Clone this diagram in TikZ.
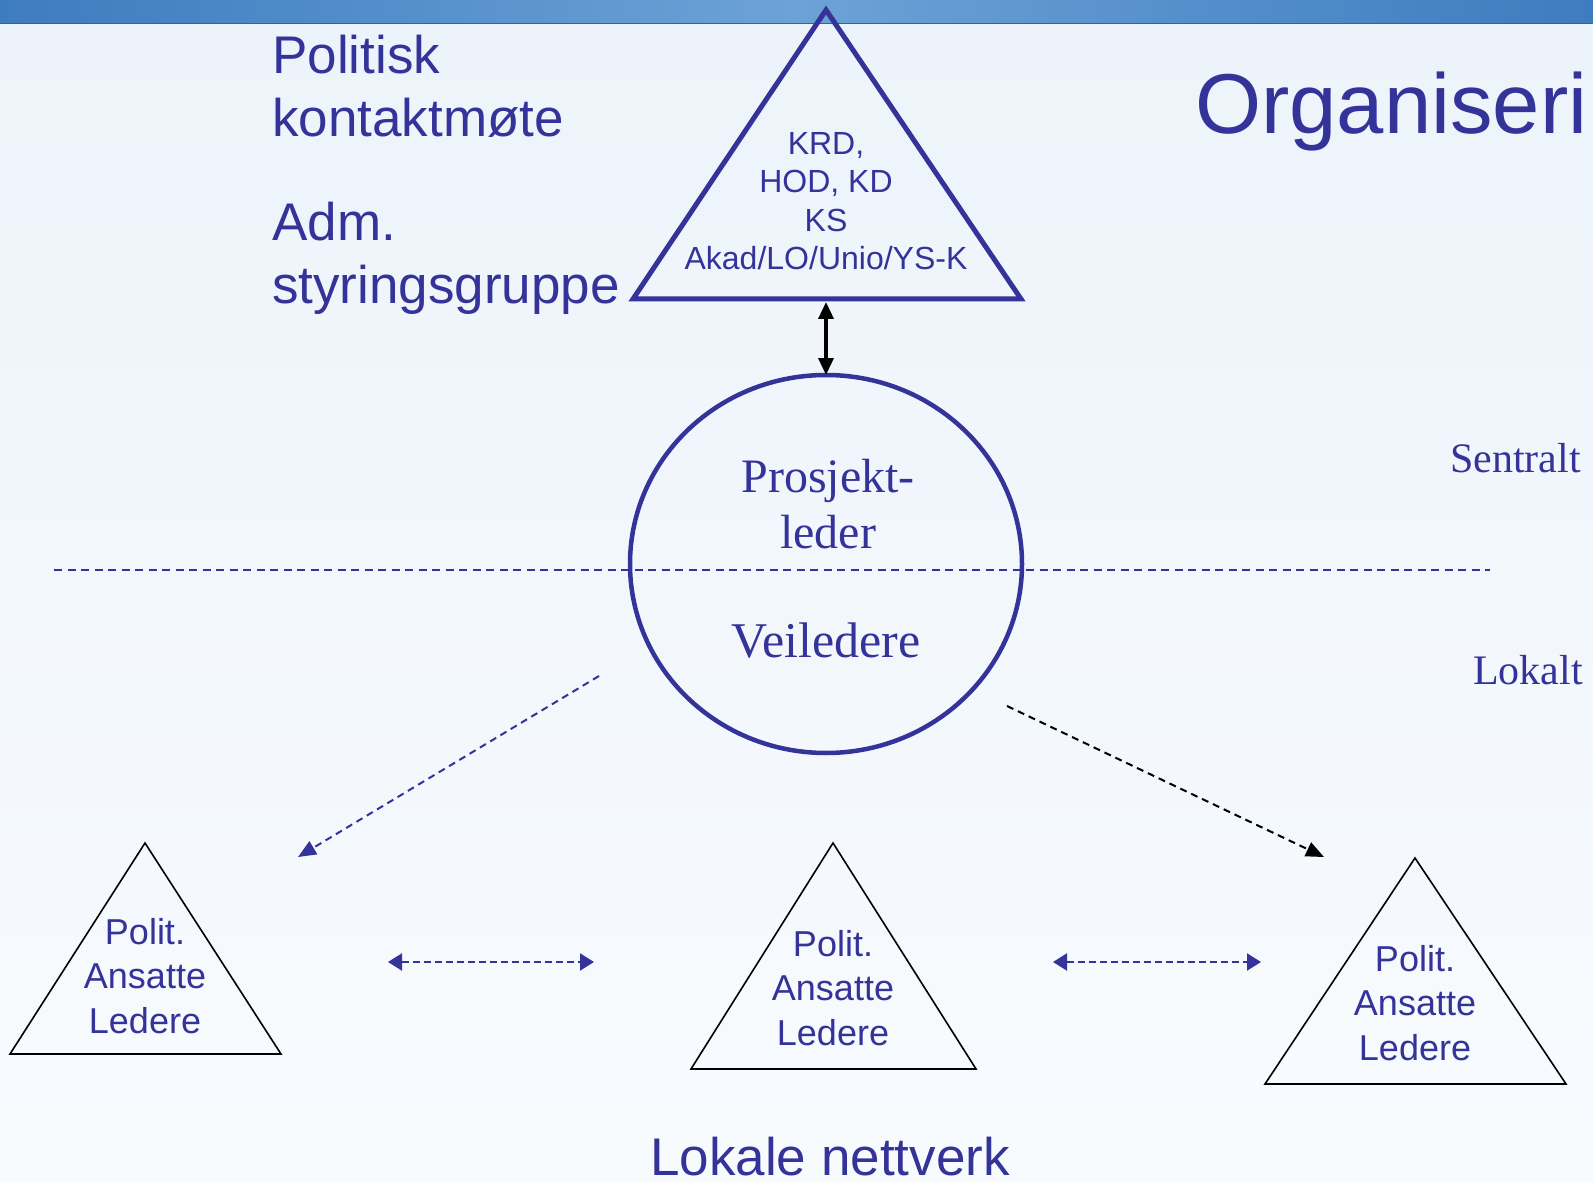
\documentclass[tikz,border=0pt]{standalone}
\usepackage{fontspec}
\setmainfont{Liberation Sans}
\newfontfamily\timesfont{Liberation Serif}
\usetikzlibrary{arrows.meta,shapes.geometric}

\definecolor{slideblue}{RGB}{51,51,153}
\definecolor{barblue}{RGB}{62,124,192}
\definecolor{barlight}{RGB}{108,162,214}
\definecolor{bgtop}{RGB}{236,243,250}
\definecolor{bgbot}{RGB}{248,251,254}

\tikzset{
  heading/.style={text=slideblue, font=\fontsize{53}{63}\selectfont, inner sep=0pt, align=left},
  members/.style={text=slideblue, font=\fontsize{32}{38.5}\selectfont, inner sep=0pt, align=center},
  lokal/.style={text=slideblue, font=\fontsize{36}{44.5}\selectfont, inner sep=0pt, align=center},
  serif/.style={text=slideblue, font=\timesfont\fontsize{48}{56}\selectfont, inner sep=0pt, align=center},
  level/.style={text=slideblue, font=\timesfont\fontsize{42}{50}\selectfont, inner sep=0pt},
  bigtip/.style={-{Triangle[length=18pt,width=15pt]}},
  smalltip/.style={{Triangle[length=14pt,width=17pt]}-{Triangle[length=14pt,width=17pt]}},
}

\begin{document}
\begin{tikzpicture}[x=1pt,y=-1pt]
    \useasboundingbox (0,0) rectangle (1593,1182);
    \clip (0,0) rectangle (1593,1182);

    % background and top bar
    \shade[top color=bgtop, bottom color=bgbot] (0,0) rectangle (1593,1182);
    \shade[left color=barblue, right color=barblue, middle color=barlight] (0,0) rectangle (1593,24);
    \draw[barblue!80!black, line width=1pt] (0,24) -- (1593,24);

    % headings
    \node[heading, anchor=base west] (pkm) at (272,137) {Politisk\\kontaktmøte};
    \node[heading, anchor=base west] (asg) at (272,304) {Adm.\\styringsgruppe};
    \node[text=slideblue, font=\fontsize{85}{90}\selectfont, inner sep=0pt, anchor=base west] (title) at (1195,134) {Organiseri};
    \node[level, anchor=base east] (sentralt) at (1581,472) {Sentralt};
    \node[level, anchor=base east] (lokalt) at (1583,684) {Lokalt};
    \node[heading, anchor=base] (nettverk) at (830,1175) {Lokale nettverk};

    % central level
    \draw[slideblue, line width=5pt]
    (826,10) coordinate (ktop) -- (1021,299) coordinate (kright) -- (633,299) coordinate (kleft) -- cycle;
    \coordinate (kbase) at (826,302);
    \node[members] (kmembers) at (826,201) {KRD,\\HOD, KD\\KS\\Akad/LO/Unio/YS-K};

    \draw[slideblue, line width=2pt, dash pattern=on 8pt off 5.5pt] (54,570) -- (1490,570);

    \node[ellipse, draw=slideblue, line width=4.5pt, minimum width=392pt, minimum height=378pt, inner sep=0pt, outer sep=0pt] (pl) at (826,564) {};
    \node[serif] (prosjekt) at (828,504) {Prosjekt-\\leder};
    \node[serif, font=\timesfont\fontsize{50}{56}\selectfont] (veil) at (826,641) {Veiledere};

    \draw[black, line width=3.5pt, {Triangle[length=17pt,width=15pt]}-{Triangle[length=17pt,width=15pt]}] (kbase) -- (pl.north);

    % local networks
    \draw[line width=1.6pt] (145,843) -- (281,1054) -- (10,1054) -- cycle;
    \draw[line width=1.6pt] (833,843) -- (976,1069) -- (691,1069) -- cycle;
    \draw[line width=1.6pt] (1415,858) -- (1566,1084) -- (1265,1084) -- cycle;
    \node[lokal] (netleft) at (145,976) {Polit.\\Ansatte\\Ledere};
    \node[lokal] (netmid) at (833,988) {Polit.\\Ansatte\\Ledere};
    \node[lokal] (netright) at (1415,1003) {Polit.\\Ansatte\\Ledere};

    \coordinate (vleft) at (599,676);
    \coordinate (nleft) at (298,857);
    \coordinate (vright) at (1007,706);
    \coordinate (nright) at (1324,857);
    \draw[slideblue, line width=2pt, dash pattern=on 7pt off 5pt, bigtip] (vleft) -- (nleft);
    \draw[black, line width=2pt, dash pattern=on 7pt off 5pt, bigtip] (vright) -- (nright);

    \coordinate (hl1) at (388,962);
    \coordinate (hl2) at (594,962);
    \coordinate (hr1) at (1053,962);
    \coordinate (hr2) at (1261,962);
    \draw[slideblue, line width=2pt, dash pattern=on 7pt off 4pt, smalltip] (hl1) -- (hl2);
    \draw[slideblue, line width=2pt, dash pattern=on 7pt off 4pt, smalltip] (hr1) -- (hr2);
\end{tikzpicture}
\end{document}
